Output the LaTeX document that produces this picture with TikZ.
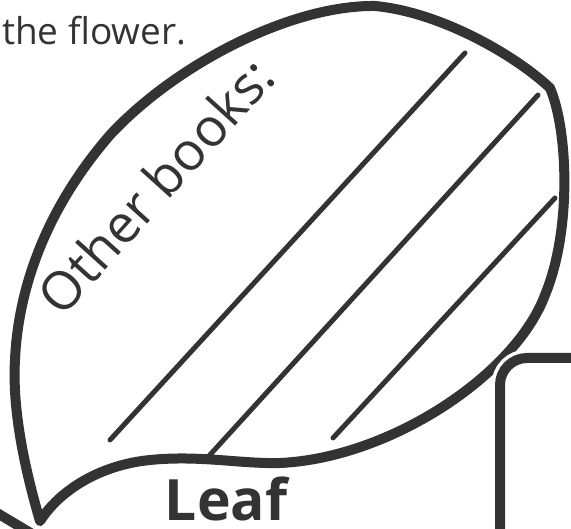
\documentclass[tikz,border=0pt]{standalone}
\usepackage{fontspec}
\setmainfont{Open Sans}
\usepackage{xcolor}
\definecolor{ink}{HTML}{333333}
\begin{document}
\begin{tikzpicture}[x=1pt,y=-1pt,
    outline/.style={draw=ink,line width=10pt,line join=round,line cap=round},
    hatch/.style={draw=ink,line width=5pt,line cap=round},
    every node/.style={text=ink,inner sep=0pt,outer sep=0pt}]
  \useasboundingbox (0,0) rectangle (571,529);
  \begin{scope}
    \clip (0,0) rectangle (571,529);
    % leaf outline
    \draw[outline] (40,521) .. controls (25,470) and (12,410) .. (15,360)
      .. controls (18,290) and (45,210) .. (110,135)
      .. controls (175,65) and (290,5) .. (375,6)
      .. controls (440,12) and (515,55) .. (550,88)
      .. controls (568,130) and (572,230) .. (545,295)
      .. controls (515,375) and (390,458) .. (280,463)
      .. controls (240,464) and (200,455) .. (150,460)
      .. controls (100,465) and (60,490) .. (40,521);
    % writing lines
    \draw[hatch] (465,53) -- (110,440);
    \draw[hatch] (538,95) -- (208,457);
    \draw[hatch] (555,198) -- (333,438);
    % box at the right
    \draw[draw=white,line width=17pt,rounded corners=27pt] (500,560) -- (500,358) -- (600,358);
    \draw[outline,line cap=butt,rounded corners=27pt] (500,560) -- (500,358) -- (600,358);
    % piece at the bottom left
    \draw[outline,line cap=butt] (-8,510) -- (34,535);
  \end{scope}
  \node[anchor=base west] (title) at (2,45) {\fontsize{37}{40}\selectfont the flower.};
  \node[anchor=base,rotate=48] (books) at (170,199) {\fontsize{53}{58}\selectfont Other books:};
  \node[anchor=base] (leaf) at (226,521) {\fontsize{57}{60}\selectfont\bfseries Leaf};
\end{tikzpicture}
\end{document}
